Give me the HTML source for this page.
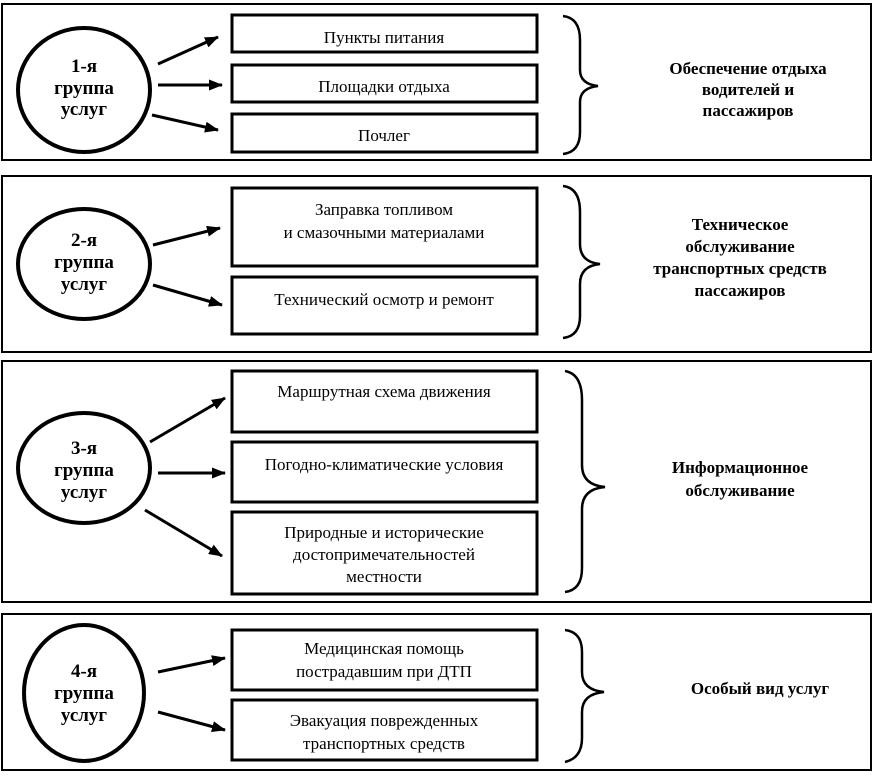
<!DOCTYPE html>
<html><head><meta charset="utf-8"><style>
body{margin:0;background:#fff}
svg{display:block}
text{font-family:"Liberation Serif",serif;fill:#000}
.b{font-weight:bold}
</style></head><body>
<svg width="874" height="776" viewBox="0 0 874 776" xmlns="http://www.w3.org/2000/svg">
<defs><marker id="a" markerWidth="14" markerHeight="11" refX="13" refY="5.5" orient="auto" markerUnits="userSpaceOnUse"><path d="M0,0 L14,5.5 L0,11 z" fill="#000"/></marker></defs>
<g fill="none" stroke="#000" stroke-width="2">
<rect x="2" y="4" width="869" height="156"/>
<rect x="2" y="176" width="869" height="176"/>
<rect x="2" y="361" width="869" height="241"/>
<rect x="2" y="614" width="869" height="156"/>
</g>
<g fill="none" stroke="#000" stroke-width="4">
<ellipse cx="84" cy="90" rx="66" ry="62"/>
<ellipse cx="84" cy="264" rx="66" ry="55"/>
<ellipse cx="84" cy="468" rx="66" ry="55"/>
<ellipse cx="84" cy="693" rx="60" ry="68"/>
</g>
<g fill="none" stroke="#000" stroke-width="3">
<rect x="232" y="15" width="305" height="37"/>
<rect x="232" y="65" width="305" height="37"/>
<rect x="232" y="114" width="305" height="38"/>
<rect x="232" y="188" width="305" height="78"/>
<rect x="232" y="277" width="305" height="57"/>
<rect x="232" y="371" width="305" height="61"/>
<rect x="232" y="442" width="305" height="60"/>
<rect x="232" y="512" width="305" height="82"/>
<rect x="232" y="630" width="305" height="60"/>
<rect x="232" y="700" width="305" height="60"/>
</g>
<g stroke="#000" stroke-width="3" marker-end="url(#a)">
<line x1="158" y1="64" x2="218" y2="37"/>
<line x1="158" y1="85" x2="222" y2="85"/>
<line x1="152" y1="115" x2="218" y2="130"/>
<line x1="153" y1="245" x2="220" y2="228"/>
<line x1="153" y1="285" x2="222" y2="305"/>
<line x1="150" y1="442" x2="225" y2="398"/>
<line x1="158" y1="473" x2="225" y2="473"/>
<line x1="145" y1="510" x2="222" y2="556"/>
<line x1="158" y1="672" x2="225" y2="658"/>
<line x1="158" y1="712" x2="225" y2="730"/>
</g>
<g fill="none" stroke="#000" stroke-width="2.5">
<path d="M563,16 Q580,18 580,40 L580,70 Q580,84 598,86 Q580,88 580,102 L580,132 Q580,152 563,154"/>
<path d="M563,186 Q580,188 580,212 L580,244 Q580,262 600,264 Q580,266 580,284 L580,316 Q580,336 563,338"/>
<path d="M565,371 Q582,374 582,400 L582,465 Q582,485 605,487 Q582,489 582,509 L582,568 Q582,590 565,592"/>
<path d="M565,630 Q582,632 582,652 L582,672 Q582,690 604,692 Q582,694 582,712 L582,738 Q582,758 565,762"/>
</g>
<g class="b" font-size="19" text-anchor="middle">
<text x="84" y="72">1-я</text><text x="84" y="94">группа</text><text x="84" y="115">услуг</text>
<text x="84" y="246">2-я</text><text x="84" y="268">группа</text><text x="84" y="290">услуг</text>
<text x="84" y="454">3-я</text><text x="84" y="476">группа</text><text x="84" y="498">услуг</text>
<text x="84" y="677">4-я</text><text x="84" y="699">группа</text><text x="84" y="721">услуг</text>
</g>
<g font-size="17" text-anchor="middle">
<text x="384" y="43">Пункты питания</text>
<text x="384" y="92">Площадки отдыха</text>
<text x="384" y="141">Почлег</text>
<text x="384" y="215">Заправка топливом</text>
<text x="384" y="238">и смазочными материалами</text>
<text x="384" y="305">Технический осмотр и ремонт</text>
<text x="384" y="397">Маршрутная схема движения</text>
<text x="384" y="470">Погодно-климатические условия</text>
<text x="384" y="538">Природные и исторические</text>
<text x="384" y="560">достопримечательностей</text>
<text x="384" y="582">местности</text>
<text x="384" y="654">Медицинская помощь</text>
<text x="384" y="677">пострадавшим при ДТП</text>
<text x="384" y="726">Эвакуация поврежденных</text>
<text x="384" y="749">транспортных средств</text>
</g>
<g class="b" font-size="17" text-anchor="middle">
<text x="748" y="74">Обеспечение отдыха</text>
<text x="748" y="95">водителей и</text>
<text x="748" y="116">пассажиров</text>
<text x="740" y="230">Техническое</text>
<text x="740" y="252">обслуживание</text>
<text x="740" y="274">транспортных средств</text>
<text x="740" y="296">пассажиров</text>
<text x="740" y="473">Информационное</text>
<text x="740" y="496">обслуживание</text>
<text x="760" y="694">Особый вид услуг</text>
</g>
</svg>
</body></html>
